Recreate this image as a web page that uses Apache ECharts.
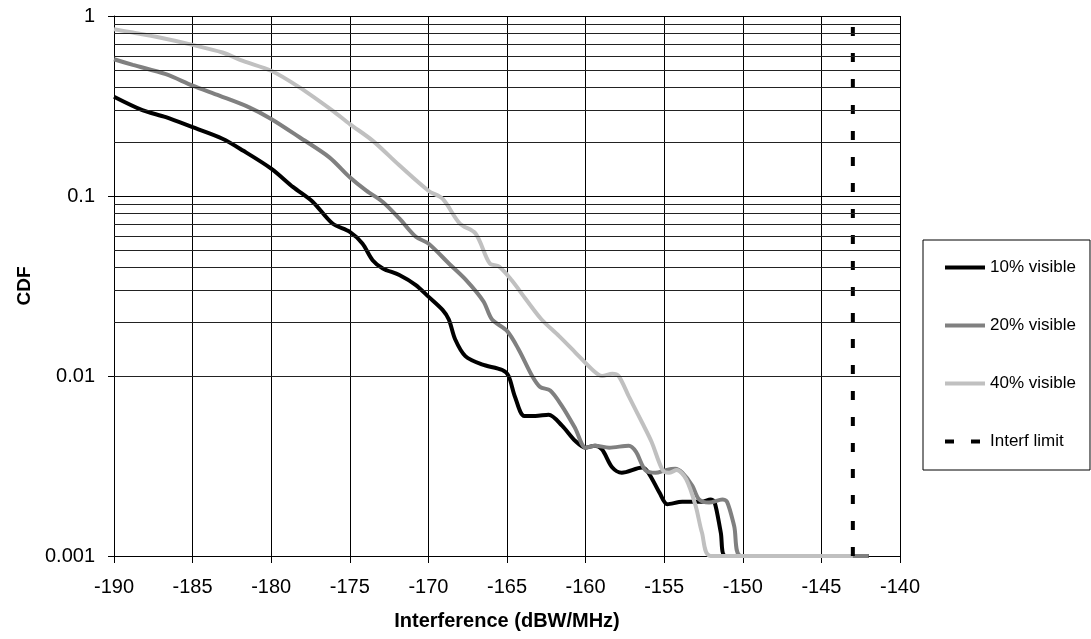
<!DOCTYPE html>
<html>
<head>
<meta charset="utf-8">
<script src="https://cdn.jsdelivr.net/npm/echarts@6/dist/echarts.min.js"></script>
<style>
  html, body { margin: 0; padding: 0; background: #fff; }
  #chart { width: 1091px; height: 639px; }
</style>
</head>
<body>
<div id="chart"></div>
<script>
  // interference (dBW/MHz) / CDF
  var x10 = [-190, -188.2, -186.7, -185, -183.1, -181.8, -180, -178.6, -177.35, -176.1, -175, -174.2, -173.55,
    -172.9, -171.85, -170.8, -170, -169.1, -168.7, -168.3, -167.65, -166.6, -165.3, -164.9, -164.5, -163.9, -163.2,
    -162.35, -161.5, -160.65, -160, -159.4, -158.95, -158.3, -157.7, -156.4, -156, -155.3, -154.8, -153.85, -152.6,
    -152.05, -151.8, -151.4, -151.1, -142];
  var y10 = [0.356, 0.30, 0.274, 0.241, 0.208, 0.179, 0.142, 0.112, 0.0927, 0.0703, 0.0632, 0.0545, 0.044,
    0.0396, 0.0364, 0.032, 0.0276, 0.0233, 0.0206, 0.016, 0.0129, 0.0116, 0.0108, 0.01, 0.0077, 0.006, 0.006,
    0.0061, 0.0053, 0.00435, 0.004, 0.0041, 0.0039, 0.0031, 0.0029, 0.0031, 0.0029, 0.00225, 0.00194, 0.002, 0.002,
    0.00206, 0.002, 0.00135, 0.001, 0.001];

  var x20 = [-190, -188.8, -186.7, -185, -183.3, -181.4, -180, -178.2, -176.3, -175, -173.95, -172.9, -171.85,
    -170.8, -170, -168.7, -167.6, -166.5, -165.95, -165, -164.25, -163.4, -162.9, -162.25, -161.5, -160.65, -160,
    -159.4, -158.5, -157.25, -156.8, -156.2, -155.55, -154.9, -154.3, -153.85, -153.2, -152.8, -152.15, -151.3,
    -151.0, -150.55, -150.1, -142];
  var y20 = [0.575, 0.535, 0.475, 0.41, 0.361, 0.311, 0.268, 0.212, 0.164, 0.127, 0.107, 0.0927, 0.075,
    0.0593, 0.0545, 0.0422, 0.0341, 0.026, 0.0206, 0.0178, 0.014, 0.01, 0.0087, 0.0083, 0.0068, 0.0051, 0.004,
    0.0041, 0.004, 0.0041, 0.0038, 0.003, 0.0029, 0.003, 0.00305, 0.0029, 0.00245, 0.00207, 0.00198, 0.00206,
    0.002, 0.00147, 0.001, 0.001];

  var x40 = [-190, -188.8, -187.1, -185, -183.1, -181.8, -180, -178.2, -176.1, -175, -173.55, -171.85, -170,
    -169.1, -168, -167, -166.1, -165.5, -164.7, -163.8, -162.8, -161.7, -160.65, -159.6, -158.95, -158.3, -157.9,
    -157.25, -156.4, -155.8, -155.1, -154.7, -154.2, -153.6, -153, -152.6, -152.05, -143];
  var y40 = [0.844, 0.809, 0.759, 0.691, 0.627, 0.563, 0.496, 0.401, 0.298, 0.251, 0.203, 0.148, 0.107,
    0.0966, 0.0703, 0.0619, 0.0422, 0.0405, 0.034, 0.0267, 0.0206, 0.0167, 0.0135, 0.0109, 0.01, 0.0103, 0.01,
    0.0077, 0.0055, 0.0043, 0.003, 0.0029, 0.003, 0.00267, 0.0019, 0.00135, 0.001, 0.001];

  var xLimit = [-143, -143];
  var yLimit = [0.001, 1];

  var seriesNames = ['10% visible', '20% visible', '40% visible', 'Interf limit'];
  var xTicks = [-190, -185, -180, -175, -170, -165, -160, -155, -150, -145, -140];
  var yMinorLines = [0.002, 0.003, 0.004, 0.005, 0.006, 0.007, 0.008, 0.009,
    0.02, 0.03, 0.04, 0.05, 0.06, 0.07, 0.08, 0.09,
    0.2, 0.3, 0.4, 0.5, 0.6, 0.7, 0.8, 0.9];

  function pairs(xs, ys) {
    return xs.map(function (x, i) { return [x, ys[i]]; });
  }

  var font = 'Liberation Sans, Arial, sans-serif';
  var chart = echarts.init(document.getElementById('chart'));

  function curve(name, xs, ys, color) {
    return {
      name: name,
      type: 'line',
      data: pairs(xs, ys),
      symbol: 'none',
      smooth: 0.3,
      z: 3,
      lineStyle: {color: color, width: 4},
      itemStyle: {color: color}
    };
  }

  chart.setOption({
    animation: false,
    backgroundColor: '#fff',
    textStyle: {fontFamily: font},
    grid: {left: 114, right: 191, top: 16, bottom: 83},
    legend: {
      data: seriesNames,
      orient: 'vertical',
      left: 923,
      top: 240,
      padding: [19, 14, 20, 20],
      itemWidth: 40,
      itemHeight: 17,
      itemGap: 41,
      borderColor: '#000',
      borderWidth: 1,
      borderRadius: 0,
      // hide the marker dot, keep the line sample
      itemStyle: {opacity: 0},
      lineStyle: {width: 4},
      textStyle: {fontFamily: font, fontSize: 17, color: '#000'}
    },
    xAxis: {
      type: 'value',
      min: xTicks[0],
      max: xTicks[xTicks.length - 1],
      interval: 5,
      name: 'Interference (dBW/MHz)',
      nameLocation: 'middle',
      nameGap: 55,
      nameTextStyle: {fontFamily: font, fontSize: 20, fontWeight: 'bold', color: '#000'},
      axisLine: {lineStyle: {color: '#000', width: 1}},
      axisTick: {show: true, length: 7, lineStyle: {color: '#000'}},
      axisLabel: {fontFamily: font, fontSize: 20, color: '#000', margin: 21},
      splitLine: {show: true, lineStyle: {color: '#000', width: 1}}
    },
    yAxis: {
      type: 'log',
      logBase: 10,
      min: 0.001,
      max: 1,
      name: 'CDF',
      nameLocation: 'middle',
      nameGap: 78,
      nameTextStyle: {fontFamily: font, fontSize: 19, fontWeight: 'bold', color: '#000'},
      axisLine: {show: true, lineStyle: {color: '#000', width: 1}},
      axisTick: {show: true, length: 6, lineStyle: {color: '#000'}},
      axisLabel: {
        fontFamily: font, fontSize: 20, color: '#000', margin: 19,
        formatter: function (v) { return String(+(+v).toPrecision(1)); }
      },
      splitLine: {show: true, lineStyle: {color: '#000', width: 1}}
    },
    series: [
      // minor log grid lines
      {
        name: 'grid',
        type: 'line',
        data: [],
        z: 1,
        silent: true,
        markLine: {
          silent: true,
          symbol: 'none',
          label: {show: false},
          animation: false,
          lineStyle: {color: '#222', width: 1, type: 'solid'},
          emphasis: {disabled: true},
          data: yMinorLines.map(function (v) { return {yAxis: v}; })
        }
      },
      curve(seriesNames[0], x10, y10, '#000000'),
      curve(seriesNames[1], x20, y20, '#808080'),
      curve(seriesNames[2], x40, y40, '#c0c0c0'),
      {
        name: seriesNames[3],
        type: 'line',
        data: pairs(xLimit, yLimit),
        symbol: 'none',
        z: 4,
        lineStyle: {color: '#000', width: 4, type: [9, 17]},
        itemStyle: {color: '#000'}
      }
    ]
  });
</script>
</body>
</html>
